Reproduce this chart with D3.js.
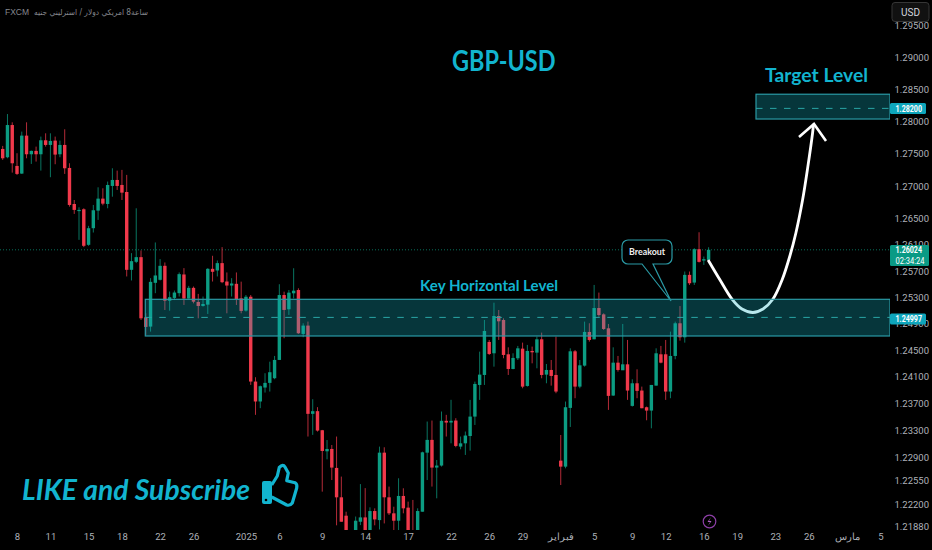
<!DOCTYPE html>
<html>
<head>
<meta charset="utf-8">
<script src="https://cdn.jsdelivr.net/npm/d3@7"></script>
<style>
html,body{margin:0;padding:0;background:#000;overflow:hidden}
text{font-family:"Lato","Noto Sans",sans-serif}
.axis text{font-family:"Liberation Sans Narrow","Roboto",sans-serif;font-size:9.5px;fill:#aeb1b8}
.axis path,.axis line{display:none}
</style>
</head>
<body>
<div id="container"></div>
<script>
// GBP-USD 8h candles
var opens=[1.27572,1.27444,1.27942,1.2731,1.27192,1.27778,1.2749,1.27542,1.2749,1.27706,1.27634,1.27701,1.2749,1.27634,1.27279,1.26725,1.26623,1.26644,1.261,1.26354,
1.26623,1.26807,1.26725,1.27002,1.27094,1.27017,1.26909,1.25719,1.25841,1.25912,1.24998,1.24858,1.25521,1.25567,1.2578,1.2525,1.25292,1.25364,1.25648,1.25282,
1.25445,1.2523,1.2517,1.2519,1.25734,1.25709,1.25821,1.25541,1.2548,1.25506,1.25285,1.251,1.2531,1.2403,1.23731,1.2394,1.2401,1.2408,1.24355,1.25336,
1.2512,1.25362,1.25412,1.24747,1.24873,1.23546,1.23586,1.23301,1.22987,1.23022,1.2274,1.22304,1.22032,1.2178,1.2178,1.21943,1.22007,1.2178,1.22101,1.21967,
1.22967,1.22304,1.22067,1.21958,1.22324,1.22151,1.2178,1.2178,1.22091,1.22967,1.23157,1.22745,1.22775,1.23442,1.23416,1.23446,1.23057,1.23106,1.23215,1.23505,
1.23979,1.24129,1.24626,1.24455,1.25018,1.24958,1.2444,1.24219,1.2438,1.24525,1.23964,1.2449,1.24465,1.24666,1.24134,1.24204,1.24129,1.22848,1.22759,1.23635,
1.24485,1.23954,1.24269,1.24777,1.24666,1.25139,1.25043,1.24832,1.2382,1.24314,1.24199,1.24289,1.23665,1.24004,1.23895,1.23645,1.23595,1.23969,1.2444,1.2444,
1.2388,1.24415,1.24908,1.24696,1.25642,1.25525,1.26033,1.2586,1.2587];
var closes=[1.27428,1.27942,1.27351,1.27187,1.27778,1.2749,1.27542,1.2749,1.27706,1.27634,1.27696,1.27485,1.27634,1.27274,1.2671,1.26634,1.26634,1.26085,1.26354,1.26629,
1.26807,1.2673,1.27017,1.27094,1.27002,1.26899,1.25719,1.25851,1.25912,1.24983,1.24853,1.25536,1.25633,1.2578,1.2525,1.25303,1.25374,1.25653,1.25282,1.25445,
1.25235,1.2517,1.252,1.25734,1.25689,1.25821,1.25531,1.2548,1.25511,1.25272,1.25095,1.2531,1.2403,1.23731,1.2396,1.2401,1.2417,1.24355,1.25336,1.2511,
1.25372,1.25402,1.24757,1.24873,1.23546,1.23586,1.23296,1.22992,1.23022,1.22745,1.22304,1.21943,1.2178,1.2172,1.21958,1.22007,1.2178,1.22101,1.21977,1.22967,
1.22304,1.22067,1.21958,1.22324,1.22141,1.2178,1.2172,1.22101,1.22972,1.23157,1.22745,1.22775,1.23442,1.23416,1.23442,1.23067,1.23106,1.23222,1.23505,1.23994,
1.24134,1.24792,1.24445,1.25018,1.24938,1.2443,1.24219,1.24385,1.2453,1.23954,1.2449,1.2447,1.24666,1.24129,1.24204,1.24114,1.2388,1.22759,1.23645,1.24485,
1.23954,1.24274,1.24777,1.24656,1.25139,1.25033,1.24822,1.23815,1.24314,1.24204,1.24289,1.23895,1.24004,1.2389,1.2363,1.23595,1.23979,1.24455,1.24314,1.2388,
1.24415,1.24908,1.24696,1.25642,1.25515,1.26033,1.2584,1.25881,1.26024];
var highs=[1.27619,1.28112,1.27984,1.27506,1.2784,1.27984,1.27547,1.27608,1.27763,1.27814,1.27814,1.27763,1.27701,1.27876,1.27351,1.26786,1.26674,1.26659,1.2639,1.2671,
1.26981,1.26966,1.27069,1.27274,1.27238,1.27249,1.27172,1.25973,1.26659,1.26014,1.25059,1.25592,1.26136,1.25882,1.25831,1.25389,1.25404,1.25679,1.25745,1.25475,
1.25465,1.25353,1.25313,1.25745,1.25933,1.25861,1.26065,1.25679,1.25592,1.25679,1.25539,1.25336,1.25336,1.24095,1.2397,1.24155,1.24329,1.24415,1.255,1.25387,
1.25412,1.25743,1.25438,1.24908,1.24934,1.23765,1.23646,1.23306,1.23155,1.23081,1.23207,1.22611,1.22091,1.218,1.2202,1.225,1.2244,1.22156,1.22141,1.23057,
1.23047,1.22463,1.22165,1.22586,1.22438,1.2224,1.22265,1.22141,1.22982,1.23431,1.23446,1.22858,1.23581,1.23531,1.23756,1.23481,1.23207,1.23282,1.23755,1.24029,
1.2448,1.24958,1.24656,1.2522,1.25109,1.24983,1.24545,1.24455,1.24566,1.24616,1.24581,1.24556,1.24707,1.24767,1.24294,1.24354,1.24707,1.2323,1.2373,1.2453,
1.24505,1.24354,1.24933,1.24908,1.25489,1.25373,1.25059,1.24898,1.24545,1.24415,1.24898,1.24656,1.24064,1.24214,1.23954,1.23655,1.23979,1.2453,1.24566,1.24656,
1.24782,1.24933,1.25169,1.25693,1.25693,1.26048,1.26292,1.25921,1.26063];
var lows=[1.27403,1.27428,1.27207,1.27171,1.27187,1.27428,1.27341,1.27377,1.27238,1.27608,1.27136,1.27336,1.27444,1.27187,1.26684,1.26573,1.26176,1.26065,1.26085,1.26288,
1.26481,1.26705,1.26659,1.26837,1.2694,1.26786,1.25618,1.25557,1.25821,1.24958,1.24732,1.24782,1.25364,1.25557,1.25109,1.25099,1.2526,1.25313,1.25185,1.25282,
1.2521,1.24983,1.2516,1.25049,1.25541,1.25618,1.25516,1.25059,1.25313,1.25185,1.25059,1.25085,1.2398,1.23531,1.23631,1.23865,1.2388,1.24065,1.24355,1.24682,
1.25034,1.25285,1.24747,1.24697,1.23207,1.23232,1.23281,1.22388,1.22868,1.2256,1.2189,1.21943,1.217,1.2168,1.217,1.21893,1.217,1.2172,1.2189,1.21829,
1.21918,1.22042,1.2178,1.2178,1.22067,1.2175,1.217,1.2172,1.22091,1.2256,1.22463,1.22289,1.2276,1.23207,1.23106,1.23047,1.23017,1.22933,1.22997,1.2338,
1.23755,1.23979,1.2443,1.24254,1.24656,1.2438,1.24129,1.24214,1.24354,1.23929,1.23954,1.24304,1.24229,1.24079,1.24004,1.23969,1.23855,1.22486,1.22734,1.2335,
1.2378,1.23929,1.24254,1.24631,1.24666,1.25008,1.24807,1.23605,1.23815,1.24179,1.24204,1.23755,1.23655,1.2378,1.2363,1.2345,1.2333,1.23969,1.24304,1.23755,
1.2378,1.24365,1.24646,1.24616,1.25489,1.25489,1.2583,1.25794,1.25845];

// price axis and time axis labels
var priceTicks=[1.295,1.29,1.285,1.28,1.275,1.27,1.265,1.261,1.257,1.253,1.249,1.245,1.241,1.237,1.233,1.229,1.2255,1.222,1.2188];
var timeTickIndex=[3,10,18,25,33,40,51,58,67,76,85,94,102,109,117,124,132,139,147,154,162,169,177,184];
var timeTickLabels=["8","11","15","18","22","26","2025","6","9","14","17","22","26","29","فبراير","5","9","12","16","19","23","26","مارس","5"];

// levels drawn on the chart
var keyZone=[1.25271,1.24716], keyLevel=1.24997;
var targetZone=[1.2842,1.28035], targetLevel=1.282;
var lastPrice=1.26024;
var curveIndex=[147.9,150.4,152.9,155,157.3,159.4,161.5,163.4,165.1,166.3,167.7,168.8,169.8,170];
var curvePrice=[1.25869,1.25564,1.25275,1.25124,1.25071,1.25124,1.25275,1.25564,1.25945,1.26281,1.26786,1.27295,1.27819,1.27958];

var width=932, height=550, axisX=890, bottom=530;
var teal="#12b4cf", zoneLine="#2a9aa5";
var red="#f0394b", green="#0c9c82";

var svg=d3.select("#container").append("svg")
    .attr("width",width)
    .attr("height",height)
    .style("display","block");

svg.append("rect").attr("width",width).attr("height",height).attr("fill","#000");

svg.append("defs").append("clipPath").attr("id","plot")
    .append("rect").attr("width",axisX).attr("height",bottom);

var x=d3.scaleLinear().domain([0,148]).range([2.7,708.6]);
var y=d3.scaleLog().domain([1.2188,1.29]).range([526,57]);

var plot=svg.append("g").attr("clip-path","url(#plot)");

// last price line
plot.append("line")
    .attr("x1",0).attr("x2",axisX)
    .attr("y1",y(lastPrice)).attr("y2",y(lastPrice))
    .attr("stroke","#0c9c82")
    .attr("stroke-opacity",0.7)
    .attr("stroke-dasharray","1,2");

// candles
var candles=d3.range(opens.length);
var colour=function(i){ return closes[i]>=opens[i]?green:red; };

plot.selectAll(".wick").data(candles).enter().append("line")
    .attr("class","wick")
    .attr("x1",function(i){return x(i);})
    .attr("x2",function(i){return x(i);})
    .attr("y1",function(i){return y(highs[i]);})
    .attr("y2",function(i){return y(lows[i]);})
    .attr("stroke",colour)
    .attr("stroke-opacity",0.75)
    .attr("stroke-width",1);

plot.selectAll(".body").data(candles).enter().append("rect")
    .attr("class","body")
    .attr("x",function(i){return x(i)-1.7;})
    .attr("width",3.4)
    .attr("y",function(i){return y(Math.max(opens[i],closes[i]));})
    .attr("height",function(i){return Math.max(1.2,Math.abs(y(opens[i])-y(closes[i])));})
    .attr("fill",colour);

// white projection arrow, it runs under the zone
var curve=d3.line().x(function(i){return x(curveIndex[i]);}).y(function(i){return y(curvePrice[i]);})
    .curve(d3.curveCatmullRom);
plot.append("path").attr("d",curve(d3.range(curveIndex.length)))
    .attr("fill","none").attr("stroke","#fff").attr("stroke-width",2.8);
plot.append("path").attr("d","M799,137L814,124L826,141")
    .attr("fill","none").attr("stroke","#fff").attr("stroke-width",2.6);

// zones
function zone(xStart,prices,level){
  var y0=y(prices[0]), y1=y(prices[1]);
  plot.append("rect")
    .attr("x",xStart).attr("y",y0)
    .attr("width",axisX-xStart).attr("height",y1-y0)
    .attr("fill","#14b3c4")
    .attr("fill-opacity",0.3);
  plot.append("rect")
    .attr("x",xStart).attr("y",y0)
    .attr("width",axisX-xStart).attr("height",y1-y0)
    .attr("fill","none")
    .attr("stroke",zoneLine)
    .attr("stroke-width",1.2);
  plot.append("line")
    .attr("x1",xStart).attr("x2",axisX)
    .attr("y1",y(level)).attr("y2",y(level))
    .attr("stroke","#2aa6a6")
    .attr("stroke-width",1)
    .attr("stroke-dasharray","6.5,7.5");
}
zone(x(30)-0.5,keyZone,keyLevel);
zone(756,targetZone,targetLevel);

// price axis
svg.append("g").attr("class","axis")
    .attr("transform","translate(891.5,0)")
    .call(d3.axisRight(y).tickValues(priceTicks).tickSize(0).tickPadding(3)
      .tickFormat(function(d){return d.toFixed(5);}));

// time axis
svg.append("g").attr("class","axis")
    .attr("transform","translate(0,530)")
    .call(d3.axisBottom(x).tickValues(timeTickIndex).tickSize(0).tickPadding(3)
      .tickFormat(function(d){return timeTickLabels[timeTickIndex.indexOf(d)];}));

// price tags
function tag(py,h,w,fill,lines){
  svg.append("rect").attr("x",890).attr("y",py-h/2).attr("width",w).attr("height",h).attr("rx",1.5).attr("fill",fill);
  lines.forEach(function(l,k){
    svg.append("text").attr("x",895.5).attr("y",py+3.2+(k-(lines.length-1)/2)*10.5)
      .style("font-family",'"Liberation Sans Narrow","Roboto",sans-serif')
      .attr("font-size",9.5).attr("font-weight",k==0?700:400)
      .attr("textLength",k==0?26.5:29).attr("lengthAdjust","spacingAndGlyphs")
      .attr("fill","#fff").text(l);
  });
}
tag(y(targetLevel),11,36,"#0ea5bb",["1.28200"]);
tag(y(keyLevel)+1.6,11,36,"#0ea5bb",["1.24997"]);
tag(255.4,21,39,"#0a9a85",["1.26024","02:34:24"]);

// USD button
svg.append("rect").attr("x",892).attr("y",2.5).attr("width",37).attr("height",19).attr("rx",3)
    .attr("fill","#111").attr("stroke","#363636");
svg.append("text").attr("x",910.5).attr("y",15.5).attr("text-anchor","middle")
    .style("font-family",'"Liberation Sans Narrow","Roboto",sans-serif')
    .attr("font-size",10).attr("fill","#d1d4dc").text("USD");

// header
svg.append("text").attr("x",5).attr("y",15)
    .style("font-family",'"Liberation Sans","Roboto",sans-serif')
    .attr("font-size",8.5).attr("fill","#85878e")
    .text("FXCM");
svg.append("text").attr("x",34).attr("y",15)
    .style("font-family",'"DejaVu Sans",sans-serif')
    .attr("font-size",8).attr("fill","#85878e")
    .attr("textLength",114).attr("lengthAdjust","spacingAndGlyphs")
    .text("\u200Eجنيه\u200E استرليني\u200E /\u200E دولار\u200E امريكي\u200E 8ساعة");

// labels
function label(t,px,py,size,len,italic){
  var s=svg.append("text").attr("x",px).attr("y",py)
    .attr("font-size",size).attr("fill",teal).attr("font-weight",700)
    .attr("textLength",len).attr("lengthAdjust","spacingAndGlyphs")
    .text(t);
  if(italic) s.attr("font-style","italic");
  return s;
}
label("GBP-USD",452,70.5,28,103.5);
label("Target Level",765,81.5,19.5,103);
label("Key Horizontal Level",420,291,15,138);
label("LIKE and Subscribe",22,500,28,228,true);

// breakout callout
svg.append("path")
    .attr("d","M628,240H666a6,6 0 0 1 6,6V258a6,6 0 0 1 -6,6H653L671,301L642,264H628a6,6 0 0 1 -6,-6V246a6,6 0 0 1 6,-6Z")
    .attr("fill","#000").attr("stroke",zoneLine).attr("stroke-width",1.2);
svg.append("text").attr("x",629).attr("y",255)
    .attr("font-size",9.5).attr("font-weight",700).attr("fill","#f0f0f0")
    .attr("textLength",36).attr("lengthAdjust","spacingAndGlyphs").text("Breakout");

// thumb icon
svg.append("rect").attr("x",262).attr("y",481).attr("width",10).attr("height",23).attr("rx",2).attr("fill",teal);
svg.append("path")
    .attr("d","M271.7,485L277.3,476L279.3,467.3Q283,463.5 285,467L288.3,473L286.7,480.7L295,482.7Q297.5,484 296.7,488L292.3,503Q290,506 286.7,505L271.7,497")
    .attr("fill","none").attr("stroke",teal).attr("stroke-width",3.2).attr("stroke-linejoin","round");
svg.append("circle").attr("cx",266).attr("cy",500).attr("r",1.3).attr("fill","#000");

// bolt marker
svg.append("circle").attr("cx",709.5).attr("cy",521.5).attr("r",6.3)
    .attr("fill","#000").attr("stroke","#8e3fa8").attr("stroke-width",1.2);
svg.append("path").attr("d","M711,517L707.5,522H710L708,526L711.5,521H709Z").attr("fill","#b060c8");
</script>
</body>
</html>
